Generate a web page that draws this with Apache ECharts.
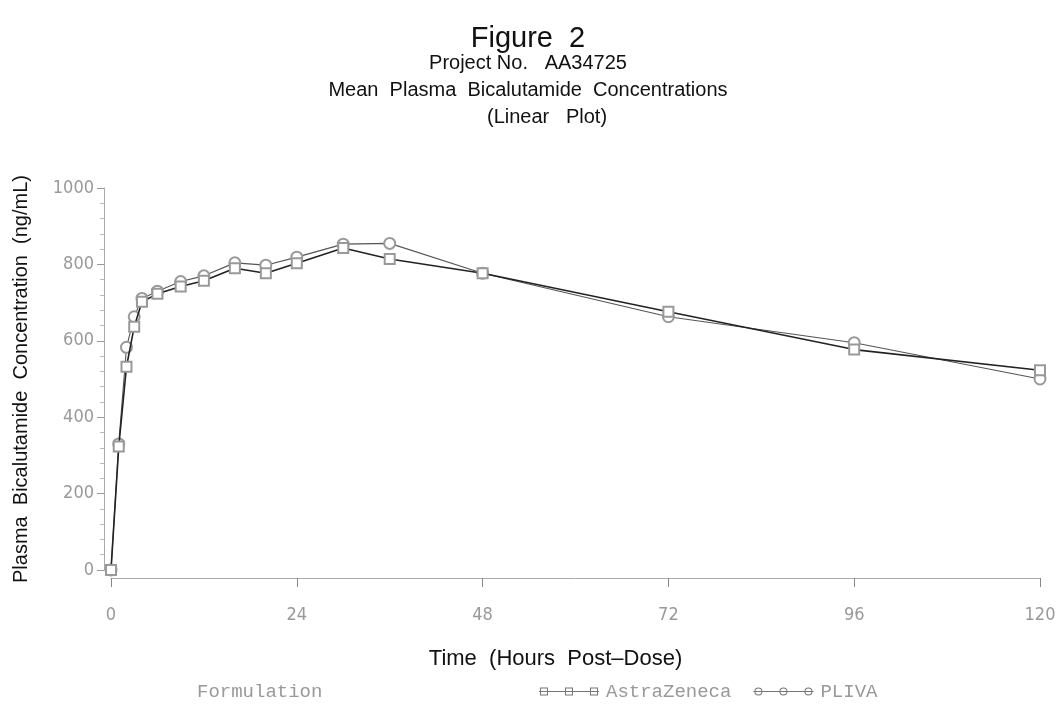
<!DOCTYPE html>
<html>
<head>
<meta charset="utf-8">
<script src="https://cdn.jsdelivr.net/npm/echarts@6/dist/echarts.min.js"></script>
<style>html,body{margin:0;padding:0;background:#fff;}#c{width:1056px;height:706px;}</style>
</head>
<body>
<div id="c"></div>
<script>
// Data
var hours = [0, 1, 2, 3, 4, 6, 9, 12, 16, 20, 24, 30, 36, 48, 72, 96, 120];
var astraZeneca = [0, 323, 532, 637, 702, 723, 742, 757, 790, 777, 803, 843, 814, 777, 676, 577, 523];
var pliva = [0, 330, 583, 663, 711, 730, 755, 770, 804, 798, 819, 853, 855, 777, 663, 595, 500];
var xTicks = [0, 24, 48, 72, 96, 120];
var yTicks = [0, 200, 400, 600, 800, 1000];

function pairs(xs, ys) { return xs.map(function (x, i) { return [x, ys[i]]; }); }

var tickFont = "'DejaVu Sans Condensed', 'Liberation Sans Narrow', sans-serif";
var legendFont = "'Liberation Mono', 'DejaVu Sans Mono', monospace";
var mainFont = "'Liberation Sans', Arial, Helvetica, sans-serif";

var squareIcon = 'path://M0,4.5 L60,4.5 L60,5.5 L0,5.5 Z ' +
  'M1,1 L9,1 L9,9 L1,9 Z M2,2 L2,8 L8,8 L8,2 Z ' +
  'M26,1 L34,1 L34,9 L26,9 Z M27,2 L27,8 L33,8 L33,2 Z ' +
  'M51,1 L59,1 L59,9 L51,9 Z M52,2 L52,8 L58,8 L58,2 Z';
var circleIcon = 'path://M0,4.5 L60,4.5 L60,5.5 L0,5.5 Z ' +
  'M1,5 A4,4 0 1,1 9,5 A4,4 0 1,1 1,5 Z M2,5 A3,3 0 1,0 8,5 A3,3 0 1,0 2,5 Z ' +
  'M26,5 A4,4 0 1,1 34,5 A4,4 0 1,1 26,5 Z M27,5 A3,3 0 1,0 33,5 A3,3 0 1,0 27,5 Z ' +
  'M51,5 A4,4 0 1,1 59,5 A4,4 0 1,1 51,5 Z M52,5 A3,3 0 1,0 58,5 A3,3 0 1,0 52,5 Z';

var chart = echarts.init(document.getElementById('c'), null, { renderer: 'canvas' });
chart.setOption({
  animation: false,
  backgroundColor: '#fff',
  title: [
    { text: 'Figure  2', left: 'center', top: 19, textStyle: { fontFamily: mainFont, fontSize: 29, fontWeight: 'normal', color: '#111' } },
    { text: 'Project No.   AA34725', left: 'center', top: 48, textStyle: { fontFamily: mainFont, fontSize: 20, fontWeight: 'normal', color: '#111' } },
    { text: 'Mean  Plasma  Bicalutamide  Concentrations', left: 'center', top: 75, textStyle: { fontFamily: mainFont, fontSize: 20, fontWeight: 'normal', color: '#111' } },
    { text: '(Linear   Plot)', left: 482, top: 102, textStyle: { fontFamily: mainFont, fontSize: 20, fontWeight: 'normal', color: '#111' } }
  ],
  graphic: [
    { type: 'text', left: 197, top: 682, style: { text: 'Formulation', fontFamily: legendFont, fontSize: 19, fill: '#999' } }
  ],
  legend: {
    left: 534, top: 677,
    itemWidth: 60, itemHeight: 10, itemGap: 22,
    textStyle: { fontFamily: legendFont, fontSize: 19, color: '#999', padding: [0, 0, 0, 2] },
    itemStyle: { color: '#777', borderWidth: 0 },
    data: [
      { name: 'AstraZeneca', icon: squareIcon },
      { name: 'PLIVA', icon: circleIcon }
    ]
  },
  grid: { left: 111, right: 16, top: 188, bottom: 136, containLabel: false, outerBoundsMode: 'none' },
  xAxis: {
    type: 'value', min: 0, max: 120, interval: 24,
    offset: 8,
    name: 'Time  (Hours  Post\u2013Dose)', nameLocation: 'middle', nameGap: 70,
    nameTextStyle: { fontFamily: mainFont, fontSize: 22, color: '#111', padding: [0, 40, 0, 0] },
    axisLine: { show: true, onZero: false, lineStyle: { color: '#aaa', width: 1 } },
    axisTick: { show: true, length: 9, lineStyle: { color: '#888' } },
    axisLabel: { margin: 28, fontFamily: tickFont, fontSize: 18, color: '#999',
      customValues: xTicks, formatter: function (v) { return String(v); } },
    splitLine: { show: false }
  },
  yAxis: {
    type: 'value', min: 0, max: 1000, interval: 200,
    offset: 7,
    name: 'Plasma  Bicalutamide  Concentration  (ng/mL)', nameLocation: 'middle', nameGap: 73,
    nameTextStyle: { fontFamily: mainFont, fontSize: 20, color: '#111' },
    axisLine: { show: true, onZero: false, lineStyle: { color: '#aaa', width: 1 } },
    axisTick: { show: true, length: 7, lineStyle: { color: '#999' } },
    minorTick: { show: true, splitNumber: 5, length: 4, lineStyle: { color: '#bbb' } },
    axisLabel: { margin: 10, fontFamily: tickFont, fontSize: 18, color: '#999',
      customValues: yTicks, formatter: function (v) { return String(v); } },
    splitLine: { show: false }
  },
  series: [
    {
      name: 'AstraZeneca', type: 'line', data: pairs(hours, astraZeneca),
      symbol: 'emptyRect', symbolSize: 10,
      itemStyle: { color: '#999', borderWidth: 1 },
      lineStyle: { color: '#222', width: 1.6 },
      z: 3
    },
    {
      name: 'PLIVA', type: 'line', data: pairs(hours, pliva),
      symbol: 'emptyCircle', symbolSize: 11,
      itemStyle: { color: '#999', borderWidth: 1 },
      lineStyle: { color: '#555', width: 1.1 },
      z: 2
    }
  ]
});
</script>
</body>
</html>
